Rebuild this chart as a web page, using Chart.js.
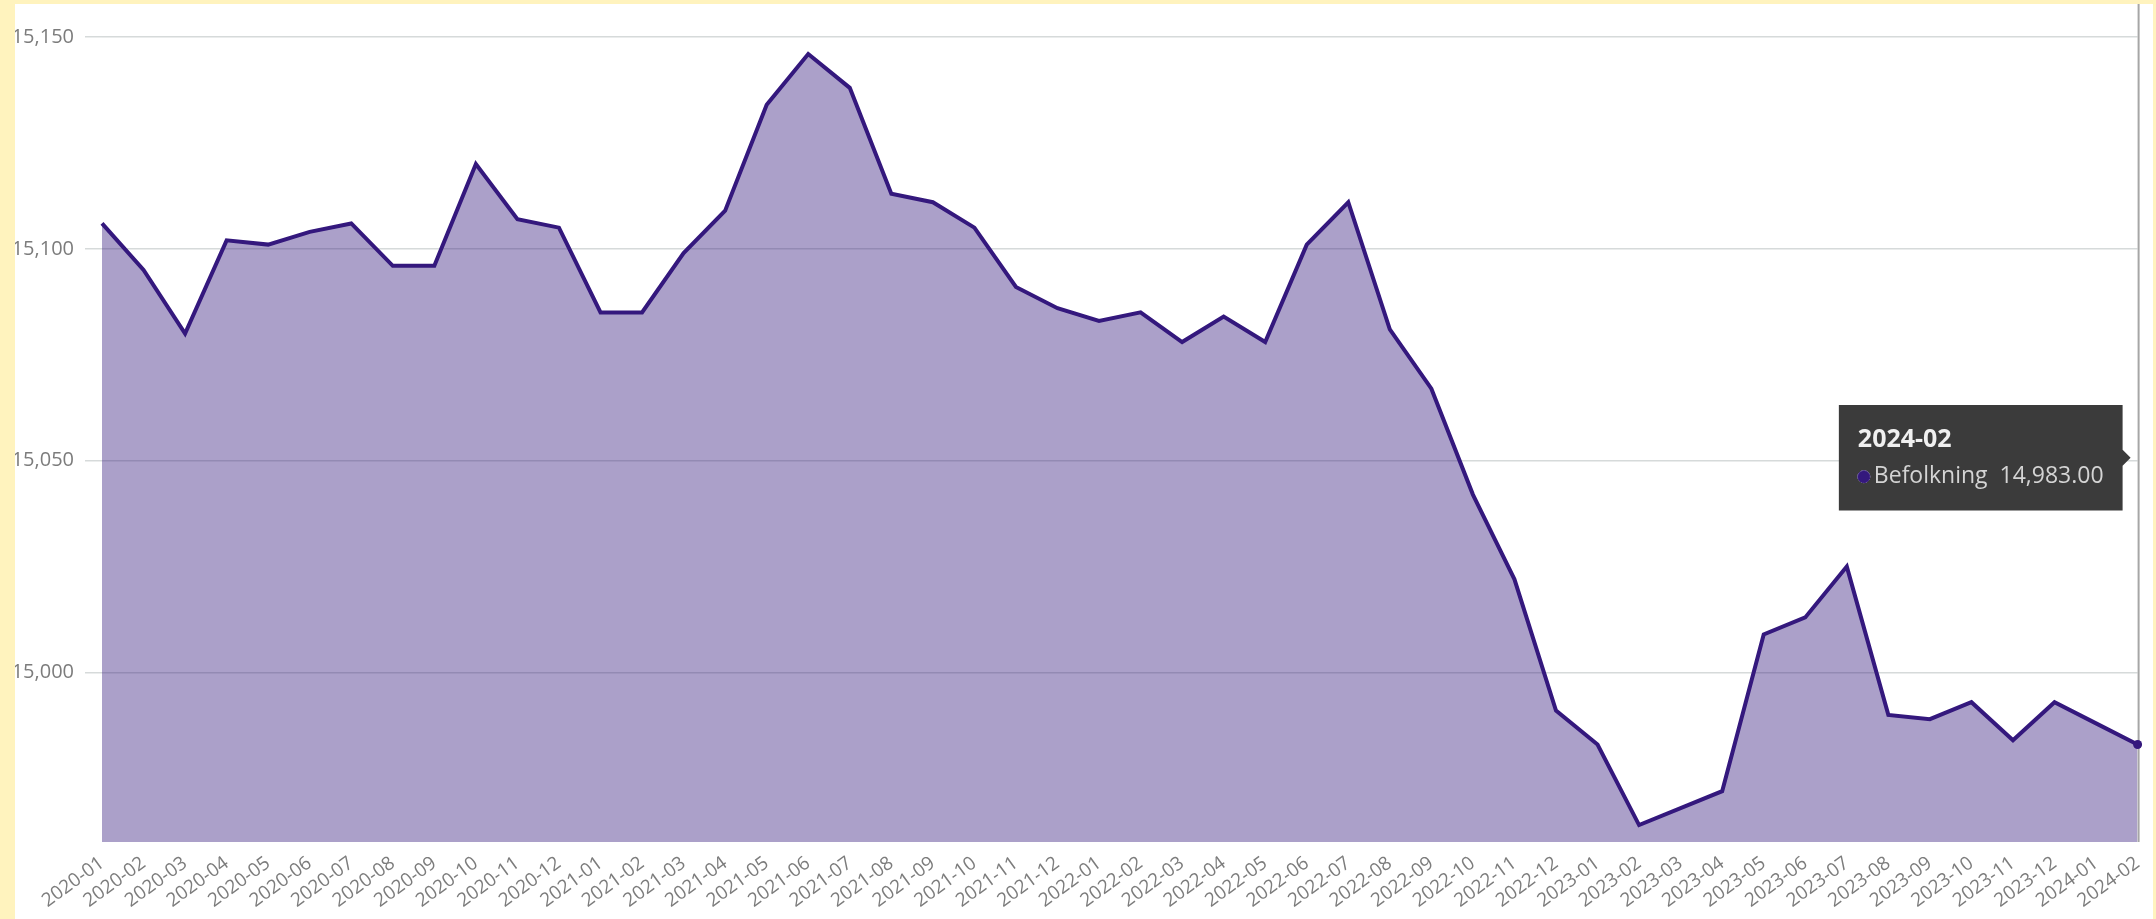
<!DOCTYPE html>
<html>
<head>
<meta charset="utf-8">
<script src="https://cdn.jsdelivr.net/npm/chart.js@4/dist/chart.umd.min.js"></script>
<style>
  html, body { margin: 0; padding: 0; background: #fff3be; overflow: hidden; }
  #ramme { position: absolute; left: 15px; top: 4px; width: 2138px; height: 915px; background: #fff; }
</style>
</head>
<body>
<div id="ramme">
  <canvas id="graf" width="2138" height="915"></canvas>
</div>
<script>
// maaneder og befolkning
const maaneder = [
  '2020-01', '2020-02', '2020-03', '2020-04', '2020-05', '2020-06', '2020-07', '2020-08', '2020-09', '2020-10', '2020-11', '2020-12',
  '2021-01', '2021-02', '2021-03', '2021-04', '2021-05', '2021-06', '2021-07', '2021-08', '2021-09', '2021-10', '2021-11', '2021-12',
  '2022-01', '2022-02', '2022-03', '2022-04', '2022-05', '2022-06', '2022-07', '2022-08', '2022-09', '2022-10', '2022-11', '2022-12',
  '2023-01', '2023-02', '2023-03', '2023-04', '2023-05', '2023-06', '2023-07', '2023-08', '2023-09', '2023-10', '2023-11', '2023-12',
  '2024-01', '2024-02'
];
const befolkning = [
  15106, 15095, 15080, 15102, 15101, 15104, 15106, 15096, 15096, 15120, 15107, 15105,
  15085, 15085, 15099, 15109, 15134, 15146, 15138, 15113, 15111, 15105, 15091, 15086,
  15083, 15085, 15078, 15084, 15078, 15101, 15111, 15081, 15067, 15042, 15022, 14991,
  14983, 14964, 14968, 14972, 15009, 15013, 15025, 14990, 14989, 14993, 14984, 14993,
  14988, 14983
];
const yTicks = [15000, 15050, 15100, 15150];
const yMin = 14960;
const yMax = 15150;

const linjeFarge = 'rgb(52, 24, 125)';
const fyllFarge = 'rgba(52, 24, 125, 0.41)';
const tekstFarge = '#7c7c7c';
const sist = maaneder.length - 1;

// holder tooltip fast til venstre for siste punkt
Chart.Tooltip.positioners.fast = function (items) {
  const chart = this.chart;
  const x = chart.scales.x.getPixelForValue(sist);
  const y = chart.scales.y.getPixelForValue(15050);
  return { x: x - 7, y: y - 3 };
};

// loddrett linje ved aktivt punkt
const hoverLinje = {
  id: 'hoverLinje',
  beforeDatasetsDraw(chart) {
    const ctx = chart.ctx;
    const x = chart.scales.x.getPixelForValue(sist);
    ctx.save();
    ctx.strokeStyle = '#a6a6a6';
    ctx.lineWidth = 2;
    ctx.beginPath();
    ctx.moveTo(x + 1, 0);
    ctx.lineTo(x + 1, chart.chartArea.bottom);
    ctx.stroke();
    ctx.restore();
  }
};

const grafen = new Chart(document.getElementById('graf').getContext('2d'), {
  type: 'line',
  data: {
    labels: maaneder,
    datasets: [{
      label: 'Befolkning',
      data: befolkning,
      borderColor: linjeFarge,
      backgroundColor: fyllFarge,
      borderWidth: 4,
      fill: 'start',
      tension: 0,
      pointRadius: (c) => (c.dataIndex === sist ? 4.5 : 0),
      pointBackgroundColor: linjeFarge,
      pointBorderWidth: 0
    }]
  },
  options: {
    responsive: false,
    animation: false,
    devicePixelRatio: 1,
    layout: { padding: { top: 33, right: 11, left: 0, bottom: 0 } },
    scales: {
      x: {
        grid: { display: false },
        border: { display: false },
        ticks: {
          autoSkip: false,
          minRotation: 36,
          maxRotation: 36,
          padding: 2,
          color: tekstFarge,
          font: { family: 'Open Sans', size: 19 }
        },
        afterFit: (s) => { s.height = 77; }
      },
      y: {
        min: yMin,
        max: yMax,
        border: { display: false },
        grid: { color: '#d6dada', lineWidth: 1.5, tickLength: 17 },
        ticks: {
          padding: 11,
          color: tekstFarge,
          font: { family: 'Open Sans', size: 20 },
          callback: (v) => v.toLocaleString('en-US')
        },
        afterBuildTicks: (s) => { s.ticks = yTicks.map((v) => ({ value: v })); },
        afterFit: (s) => { s.width = 87; }
      }
    },
    plugins: {
      legend: { display: false },
      tooltip: {
        position: 'fast',
        xAlign: 'right',
        yAlign: 'center',
        backgroundColor: '#3b3b3b',
        titleColor: '#f0f0f0',
        bodyColor: '#d4d4d4',
        titleFont: { family: 'Open Sans', size: 25, weight: 'bold' },
        bodyFont: { family: 'Open Sans', size: 23 },
        padding: { top: 20, bottom: 20, left: 19, right: 19 },
        titleMarginBottom: 8,
        cornerRadius: 0,
        caretSize: 8,
        caretPadding: 0,
        usePointStyle: true,
        boxWidth: 12,
        boxHeight: 12,
        boxPadding: 2,
        callbacks: {
          label: (c) => c.dataset.label + '  ' + c.parsed.y.toLocaleString('en-US', { minimumFractionDigits: 2 }),
          labelColor: () => ({ borderColor: linjeFarge, backgroundColor: linjeFarge }),
          labelPointStyle: () => ({ pointStyle: 'circle', rotation: 0 })
        }
      }
    }
  },
  plugins: [hoverLinje]
});

grafen.tooltip.setActiveElements([{ datasetIndex: 0, index: sist }], { x: 0, y: 0 });
grafen.update();
</script>
</body>
</html>
